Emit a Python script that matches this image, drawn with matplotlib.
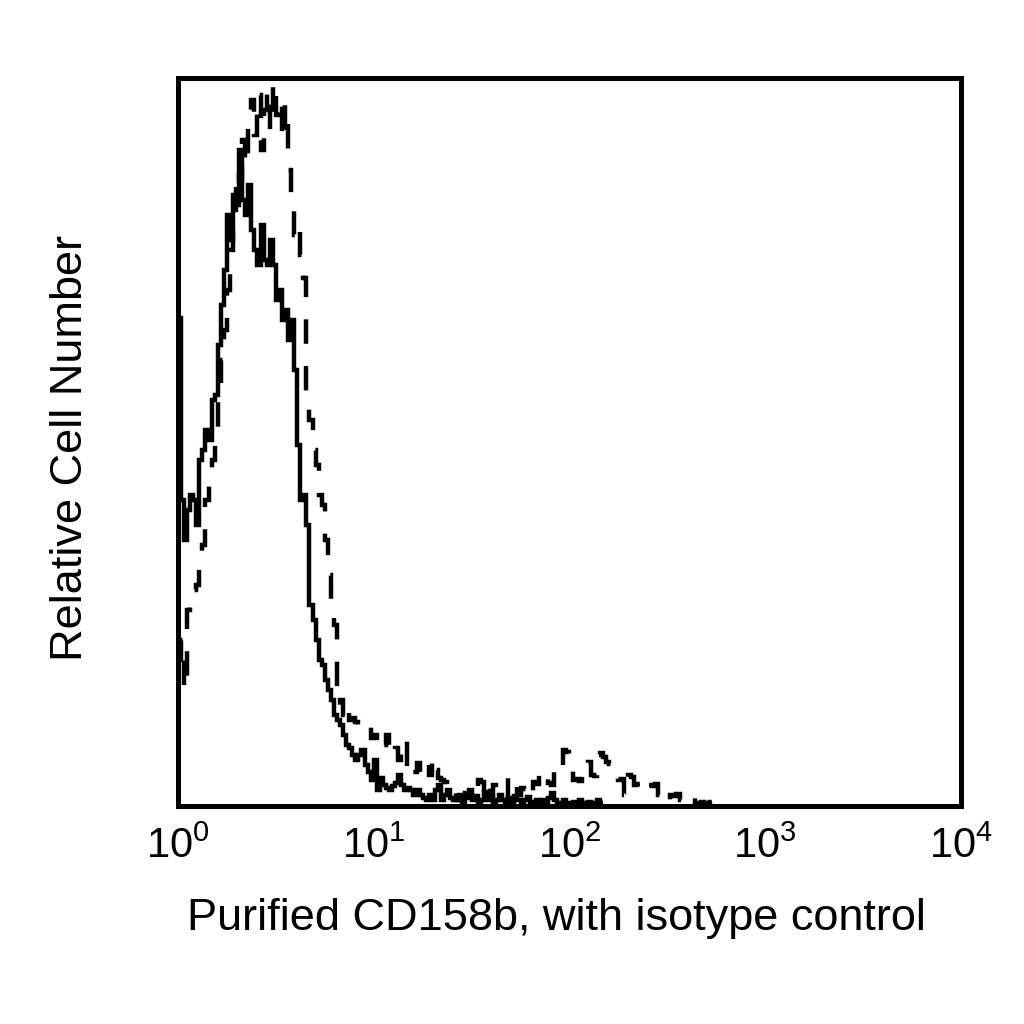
import numpy as np
import matplotlib
matplotlib.use("Agg")
import matplotlib.pyplot as plt

# fluorescence channels: 256 log-spaced bins over 4 decades
n_channels = 256
decades = 4

# isotype control (solid), counts per channel starting at channel 0
isotype_counts = [
    488, 306, 266, 296, 311, 306, 281, 346, 356, 376,
    366, 406, 411, 461, 501, 536, 591, 566, 611, 601,
    656, 606, 591, 621, 576, 556, 541, 581, 546, 541,
    566, 541, 506, 516, 486, 496, 466, 486, 436, 361,
    306, 311, 281, 201, 186, 166, 146, 141, 126, 116,
    106, 91, 86, 81, 71, 61, 58, 51, 46, 51,
    56, 41, 34, 26, 46, 16, 28, 21, 18, 16,
    20, 23, 31, 21, 16, 18, 16, 11, 16, 11,
    8, 6, 11, 6, 16, 21, 6, 11, 16, 8,
    6, 6, 11, 4, 8, 16, 6, 10, 3, 6,
    14, 6, 9, 3, 6, 11, 6, 3, 8, 4,
    10, 6, 3, 6, 9, 4, 3, 6, 3, 6,
    3, 8, 13, 6, 3, 3, 6, 3, 3, 4,
    3, 6, 3, 3, 4, 3, 3, 6, 3,
]

# purified CD158b (dashed)
cd158b_counts = [
    146, 166, 116, 196, 206, 216, 221, 246, 261, 306,
    331, 346, 361, 406, 446, 476, 516, 556, 596, 636,
    626, 666, 641, 681, 706, 671, 711, 656, 696, 716,
    676, 724, 691, 706, 666, 701, 636, 596, 571, 581,
    551, 528, 411, 386, 356, 341, 311, 301, 266, 231,
    206, 181, 101, 106, 91, 101, 86, 88, 84, 81,
    78, 76, 79, 68, 71, 64, 56, 61, 71, 56,
    51, 58, 46, 54, 66, 36, 41, 34, 43, 31,
    36, 41, 31, 48, 36, 28, 26, 24, 16, 18,
    15, 6, 7, 8, 13, 12, 14, 13, 26, 24,
    11, 21, 11, 21, 14, 8, 9, 7, 28, 27,
    29, 11, 18, 17, 19, 11, 24, 22, 32, 30,
    33, 23, 21, 36, 38, 35, 56, 54, 36, 26,
    27, 25, 34, 33, 44, 31, 30, 51, 53, 49,
    44, 42, 36, 35, 26, 27, 11, 31, 29, 21,
    22, 20, 16, 15, 21, 20, 22, 11, 4, 5,
    4, 11, 10, 12, 6, 7, 6, 10, 9, 3,
    3, 4, 3, 3, 4, 3, 3, 3, 8, 8,
]

tick_values = [1, 10, 100, 1000, 10000]
tick_labels = [r"$10^{0}$", r"$10^{1}$", r"$10^{2}$", r"$10^{3}$", r"$10^{4}$"]

plt.rcParams["font.family"] = ["Liberation Sans", "DejaVu Sans"]
plt.rcParams["mathtext.fontset"] = "custom"
plt.rcParams["mathtext.rm"] = "Liberation Sans"
plt.rcParams["mathtext.it"] = "Liberation Sans"
plt.rcParams["mathtext.bf"] = "Liberation Sans"

edges = np.logspace(0, decades, n_channels + 1)

fig = plt.figure(figsize=(10.24, 10.24), dpi=100)
ax = fig.add_axes([0.1738, 0.2129, 0.7646, 0.7109])

ax.stairs(isotype_counts, edges[:len(isotype_counts) + 1], baseline=None,
          color="black", lw=3.2)
ax.stairs(cd158b_counts, edges[:len(cd158b_counts) + 1], baseline=None,
          color="black", lw=3.2, linestyle=(0, (5.5, 5)))

ax.set_xscale("log")
ax.set_xlim(1, 10000)
ax.set_ylim(0, 728)
ax.set_xticks(tick_values)
ax.set_xticklabels(tick_labels, fontsize=30)
ax.minorticks_off()
ax.set_yticks([])
ax.tick_params(axis="x", length=0, pad=15)

for side in ax.spines.values():
    side.set_linewidth(3.6)

ax.set_xlabel("Purified CD158b, with isotype control", fontsize=32.5)
ax.xaxis.set_label_coords(0.483, -0.127)
ax.set_ylabel("Relative Cell Number", fontsize=32.5)
ax.yaxis.set_label_coords(-0.111, 0.4925)

fig.savefig("out.png", dpi=100)
